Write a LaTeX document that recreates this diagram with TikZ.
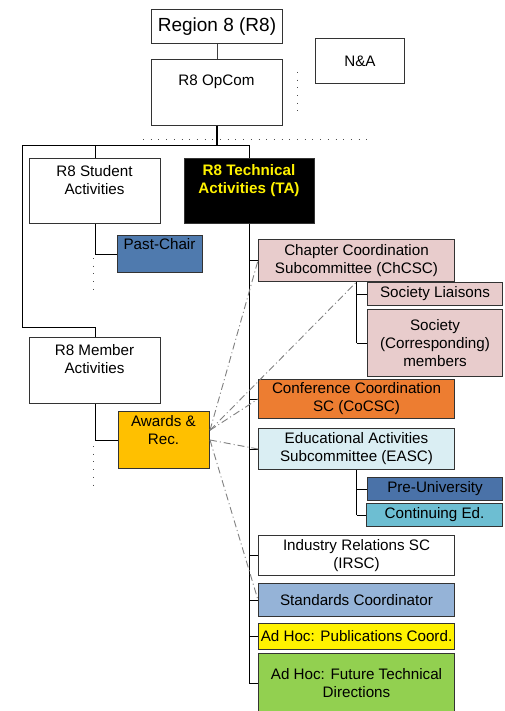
\documentclass[tikz,border=0pt]{standalone}
\usepackage{fontspec}
\setmainfont{Liberation Sans}
\usepackage{tikz}
\definecolor{pastblue}{RGB}{79,122,174}
\definecolor{awardgold}{RGB}{255,192,0}
\definecolor{chpink}{RGB}{232,204,204}
\definecolor{coorange}{RGB}{237,125,49}
\definecolor{edblue}{RGB}{218,238,243}
\definecolor{preblue}{RGB}{74,114,168}
\definecolor{contcyan}{RGB}{109,190,210}
\definecolor{stdblue}{RGB}{149,179,215}
\definecolor{adgreen}{RGB}{146,208,80}
\newcommand{\boxfont}{\fontsize{15.2}{18}\selectfont}
\tikzset{
  box/.style={draw=black!80, line width=1pt, inner sep=0pt, align=center, anchor=north west, font=\boxfont},
  lbl/.style={align=center, inner sep=0pt, font=\boxfont},
  tree/.style={line width=1pt},
  dots/.style={black!70, line width=1pt, dash pattern=on 1pt off 6.7pt},
  link/.style={gray, line width=0.9pt, dash pattern=on 7pt off 3pt on 1pt off 3pt},
}

\begin{document}
\begin{tikzpicture}[x=1pt,y=-1pt]
\fill[white] (0,0) rectangle (505,711);
\useasboundingbox (0,0) rectangle (505,711);
\node[box, minimum width=131, minimum height=34, font=\fontsize{19}{23}\selectfont] (region) at (151,9) {Region 8 (R8)};
\node[box, minimum width=131, minimum height=66] (opcom) at (151,59) {};
\node[lbl] (opcom-t) at (216.5,82) {R8 OpCom};
\node[box, minimum width=89, minimum height=45] (na) at (315,38) {N\&A};
\node[box, minimum width=131, minimum height=65] (student) at (29,158) {};
\node[lbl] (student-t) at (94.5,180.5) {R8 Student\\Activities};
\node[box, fill=black, minimum width=130, minimum height=65] (ta) at (184,158) {};
\node[lbl, text=yellow, font=\boxfont\bfseries] (ta-t) at (249,180.5) {R8 Technical\\Activities (TA)};
\node[box, fill=pastblue, minimum width=85, minimum height=37] (pastchair) at (117,235) {};
\node[lbl] (pastchair-t) at (159.5,244) {Past-Chair};
\node[box, minimum width=131, minimum height=66] (member) at (29,337) {};
\node[lbl] (member-t) at (94.5,359.5) {R8 Member\\Activities};
\node[box, fill=awardgold, minimum width=91, minimum height=57] (awards) at (118,411) {};
\node[lbl] (awards-t) at (163.5,430) {Awards \&\\Rec.};
\node[box, fill=chpink, minimum width=196, minimum height=42] (chcsc) at (258,239) {Chapter Coordination\\Subcommittee (ChCSC)};
\node[box, fill=chpink, minimum width=135, minimum height=23] (socl) at (367,282) {Society Liaisons};
\node[box, fill=chpink, minimum width=135, minimum height=67] (soccorr) at (367,309) {Society\\(Corresponding)\\members};
\node[box, fill=coorange, minimum width=196, minimum height=39] (cocsc) at (258,379) {Conference Coordination\\SC (CoCSC)};
\node[box, fill=edblue, minimum width=196, minimum height=41] (easc) at (258,428) {Educational Activities\\Subcommittee (EASC)};
\node[box, fill=preblue, minimum width=135, minimum height=23] (preuni) at (367,477) {Pre-University};
\node[box, fill=contcyan, minimum width=136, minimum height=23] (conted) at (366,503) {Continuing Ed.};
\node[box, minimum width=196, minimum height=40] (irsc) at (258,535) {Industry Relations SC\\(IRSC)};
\node[box, fill=stdblue, minimum width=196, minimum height=33] (std) at (258,583) {Standards Coordinator};
\node[box, fill=yellow, minimum width=196, minimum height=26] (pub) at (258,623) {Ad Hoc: Publications Coord.};
\node[box, fill=adgreen, minimum width=196, minimum height=60] (future) at (258,653) {Ad Hoc: Future Technical\\Directions};
\coordinate (lt) at (22,146);
\coordinate (lb) at (22,327);
\draw[tree, black!75] (region.south) -- (opcom.north);
\draw[tree, line width=1.5pt] (opcom.south) -- (opcom.south |- lt);
\draw[tree] (ta.north) -- (ta.north |- lt) -- (lt) -- (lb) -- (lb -| member.north) -- (member.north);
\draw[tree] (student.north) -- (student.north |- lt);
\draw[tree] (student.south) |- (pastchair.west);
\draw[tree] (member.south) |- (awards.west);
\draw[tree, line width=1.6pt] (ta.south) -- (ta.south |- future.west);
\foreach \n in {chcsc,cocsc,easc,irsc,std,pub,future} \draw[tree] (ta.south |- \n.west) -- (\n.west);
\draw[tree] (chcsc.south) -- (chcsc.south |- soccorr.west);
\foreach \n in {socl,soccorr} \draw[tree] (chcsc.south |- \n.west) -- (\n.west);
\draw[tree] (easc.south) -- (easc.south |- conted.west);
\foreach \n in {preuni,conted} \draw[tree] (easc.south |- \n.west) -- (\n.west);
\draw[dots] (297,72) -- (297,118);
\draw[dots] (143,140) -- (373,140);
\draw[dots] (93,258) -- (93,290);
\draw[dots] (93,446) -- (93,486);
\foreach \t in {chcsc.west,chcsc.south,cocsc.west} \draw[link] (awards.12) -- (\t);
\foreach \t in {easc.west,std.west} \draw[link] (awards.east) -- (\t);
\end{tikzpicture}
\end{document}
